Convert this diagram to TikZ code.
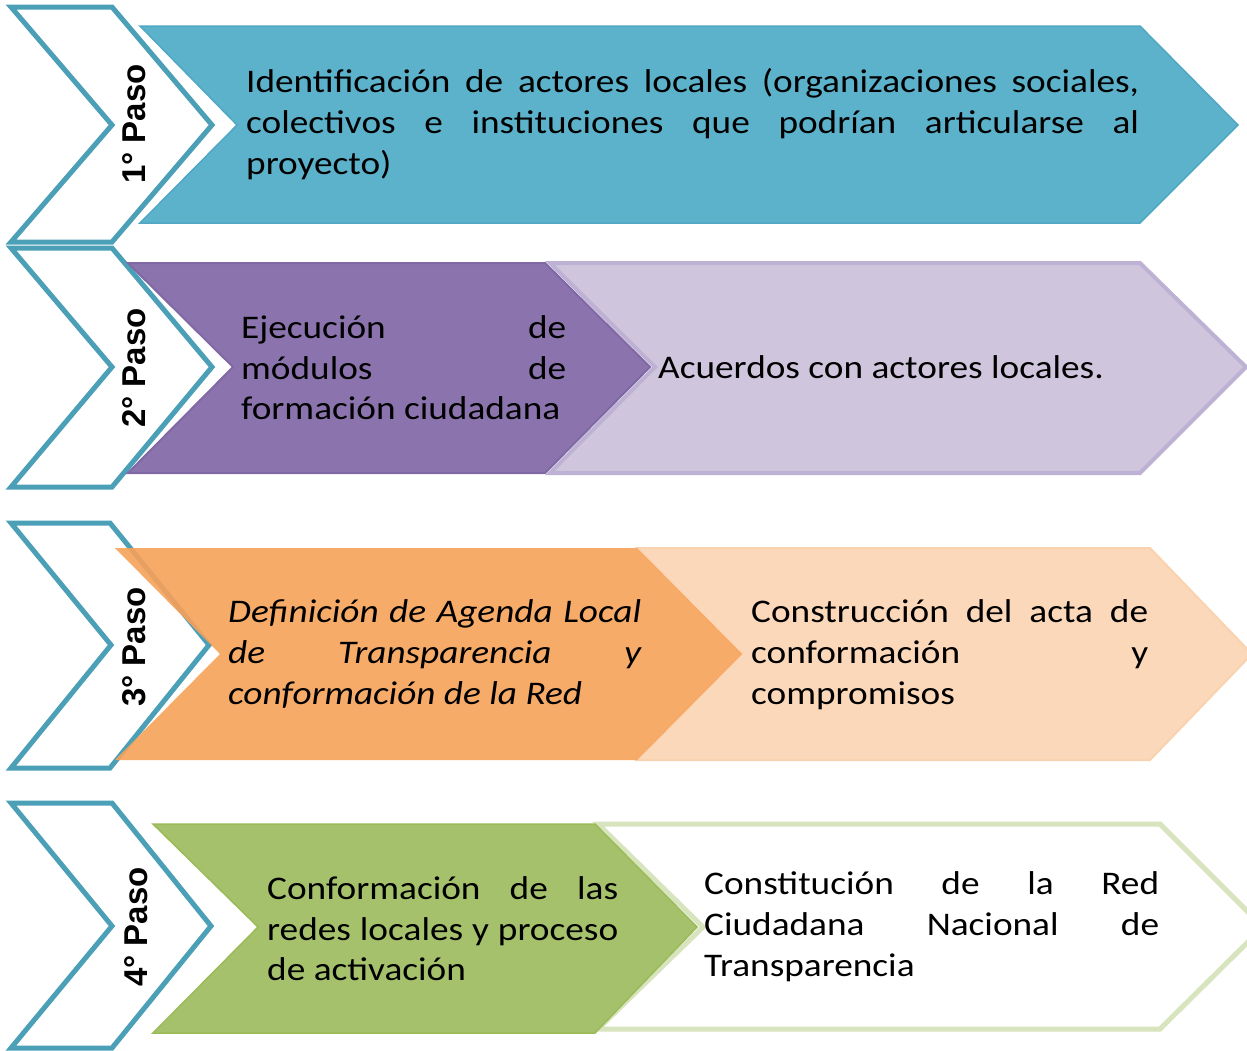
\documentclass[tikz,border=0pt]{standalone}
\usepackage{fontspec}
\setmainfont{Carlito}
\newfontfamily\labfont{Liberation Sans}
\usepackage{graphicx}
\definecolor{tealline}{RGB}{75,160,183}
\definecolor{tealfill}{RGB}{92,178,203}
\definecolor{tealedge}{RGB}{82,168,196}
\definecolor{purplefill}{RGB}{139,116,173}
\definecolor{purpleedge}{RGB}{128,104,164}
\definecolor{lavfill}{RGB}{207,198,222}
\definecolor{lavedge}{RGB}{190,178,212}
\definecolor{orangefill}{RGB}{247,162,89}
\definecolor{peachfill}{RGB}{251,216,185}
\definecolor{peachedge}{RGB}{250,210,175}
\definecolor{greenfill}{RGB}{165,193,107}
\definecolor{greenedge}{RGB}{155,187,89}
\definecolor{lgreenedge}{RGB}{215,228,189}
\newcommand\hs{1.13}
\newcommand\hsi{113}
\newcommand\jl[2]{\scalebox{\hs}[1]{\makebox[\dimexpr #1pt*100/\hsi\relax][s]{#2}}}
\newcommand\pl[1]{\scalebox{\hs}[1]{#1}}
\tikzset{
  stepoutline/.style={draw=tealline, line width=5pt, fill=white, line join=miter},
  txt/.style={inner sep=0pt, anchor=base west, font=\fontsize{33}{41}\selectfont},
  itxt/.style={txt, font=\fontsize{33}{41}\selectfont\itshape},
  paso/.style={inner sep=0pt, rotate=90, anchor=center, font=\labfont\bfseries\fontsize{33}{33}\selectfont}
}
\begin{document}
\begin{tikzpicture}[x=1pt,y=-1pt]
\useasboundingbox (0,0) rectangle (1247,1050);
\fill[white] (0,0) rectangle (1247,1050);
% step outlines
\draw[stepoutline] (11,7)--(112,7)--(212,125)--(112,242)--(11,242)--(112,125)--cycle;
\draw[stepoutline] (11,248)--(112,248)--(212,367)--(112,487)--(11,487)--(112,367)--cycle;
\draw[stepoutline] (11,523)--(110,523)--(209,645)--(110,768)--(11,768)--(111,645)--cycle;
\draw[stepoutline] (11,803)--(112,803)--(211,926)--(112,1048)--(11,1048)--(112,926)--cycle;
% row 1
\draw[fill=tealfill, draw=tealedge, line width=1.5pt] (140,26)--(1140,26)--(1238,125)--(1140,223)--(140,223)--(237,125)--cycle;
% row 2
\draw[fill=lavfill, draw=lavedge, line width=4pt] (550,263)--(1140,263)--(1246,367)--(1140,473)--(550,473)--(655,367)--cycle;
\draw[fill=purplefill, draw=purpleedge, line width=2pt] (128,263)--(545,263)--(650,367)--(545,473)--(128,473)--(233,367)--cycle;
% row 3
\draw[fill=peachfill, draw=peachedge, line width=2pt] (637,548)--(1150,548)--(1252,654)--(1150,760)--(637,760)--(742,654)--cycle;
\fill[orangefill, opacity=0.9] (115,548)--(637,548)--(742,654)--(637,760)--(115,760)--(220,654)--cycle;
% row 4
\draw[fill=white, draw=lgreenedge, line width=5pt] (598,824)--(1160,824)--(1263,927)--(1160,1029)--(598,1029)--(703,927)--cycle;
\draw[fill=greenfill, draw=greenedge, line width=1.5pt] (153,824)--(595,824)--(697,927)--(595,1033)--(153,1033)--(258,927)--cycle;
% labels
\node[paso] (p1) at (134.5,124) {1° Paso};
\node[paso] (p2) at (134.5,368) {2° Paso};
\node[paso] (p3) at (134.5,647) {3° Paso};
\node[paso] (p4) at (136,927) {4° Paso};
% texts row 1
\node[txt] (t1a) at (246,92) {\jl{893}{Identificación de actores locales (organizaciones sociales,}};
\node[txt] (t1b) at (246,133) {\jl{893}{colectivos e instituciones que podrían articularse al}};
\node[txt] (t1c) at (246,174) {\pl{proyecto)}};
% row 2
\node[txt] (t2a) at (241,338) {\jl{325}{Ejecución de}};
\node[txt] (t2b) at (241,379) {\jl{325}{módulos de}};
\node[txt] (t2c) at (241,419) {\pl{formación ciudadana}};
\node[txt] (t2d) at (658,378) {\pl{Acuerdos con actores locales.}};
% row 3
\node[itxt] (t3a) at (228,622) {\jl{413}{Definición de Agenda Local}};
\node[itxt] (t3b) at (228,663) {\jl{413}{de Transparencia y}};
\node[itxt] (t3c) at (228,704) {\pl{conformación de la Red}};
\node[txt] (t3d) at (751,622) {\jl{397}{Construcción del acta de}};
\node[txt] (t3e) at (751,663) {\jl{397}{conformación y}};
\node[txt] (t3f) at (751,704) {\pl{compromisos}};
% row 4
\node[txt] (t4a) at (267,899) {\jl{351}{Conformación de las}};
\node[txt] (t4b) at (267,940) {\jl{351}{redes locales y proceso}};
\node[txt] (t4c) at (267,980) {\pl{de activación}};
\node[txt] (t4d) at (704,894) {\jl{455}{Constitución de la Red}};
\node[txt] (t4e) at (704,935) {\jl{455}{Ciudadana Nacional de}};
\node[txt] (t4f) at (704,976) {\pl{Transparencia}};
\end{tikzpicture}
\end{document}
